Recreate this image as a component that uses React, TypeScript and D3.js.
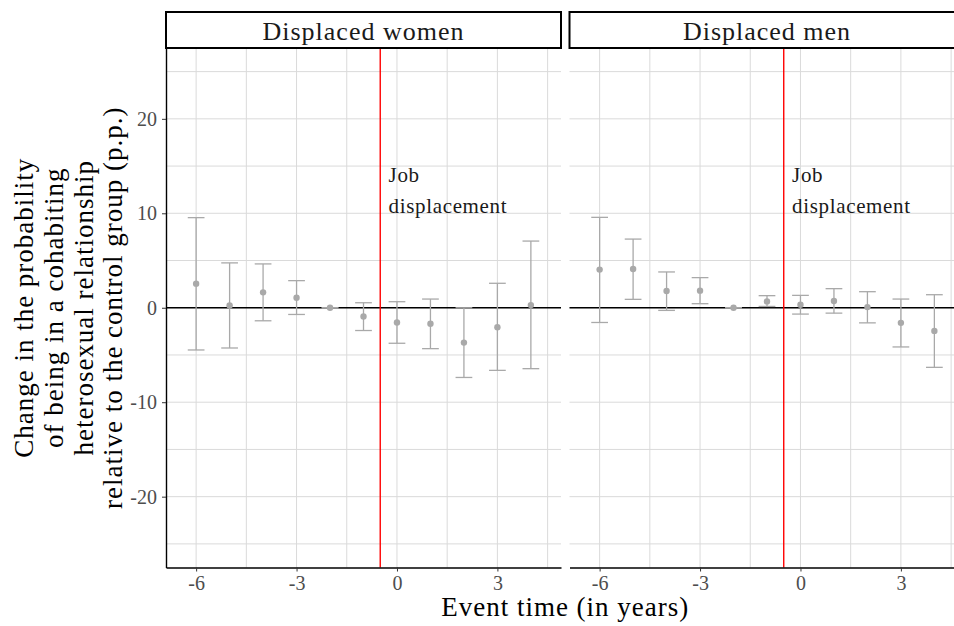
import React, { useEffect, useRef } from 'react';
import * as d3 from 'd3';

// Event-study estimates (percentage points)
const eventTime = [-6, -5, -4, -3, -2, -1, 0, 1, 2, 3, 4];

const womenEst = [2.55, 0.25, 1.63, 1.06, 0, -0.92, -1.56, -1.7, -3.69, -2.06, 0.28];
const womenLow = [-4.47, -4.26, -1.38, -0.71, 0, -2.41, -3.76, -4.33, -7.38, -6.63, -6.45];
const womenHigh = [9.54, 4.75, 4.64, 2.87, 0, 0.53, 0.64, 0.92, 0.0, 2.59, 7.06];

const menEst = [4.04, 4.11, 1.77, 1.81, 0, 0.67, 0.32, 0.71, 0.07, -1.6, -2.45];
const menLow = [-1.56, 0.89, -0.28, 0.43, 0, 0.14, -0.67, -0.57, -1.6, -4.15, -6.31];
const menHigh = [9.57, 7.27, 3.79, 3.19, 0, 1.28, 1.31, 2.02, 1.7, 0.92, 1.38];

const panelLabels = ['Displaced women', 'Displaced men'];
const xTicks = [-6, -3, 0, 3];
const xMinor = [-4.5, -1.5, 1.5, 4.5];
const yTicks = [-20, -10, 0, 10, 20];
const yMinor = [-25, -15, -5, 5, 15, 25];
const eventLine = -0.5;
const annotationLines = ['Job', 'displacement'];
const yTitleLines = [
  'Change in the probability',
  'of being in a cohabiting',
  'heterosexual relationship',
  'relative to the control group (p.p.)',
];

const FONT = '"Liberation Serif", "Times New Roman", serif';

const App: React.FC = () => {
  const ref = useRef<SVGSVGElement>(null);

  useEffect(() => {
    if (!ref.current) return;
    const svg = d3.select(ref.current);
    svg.selectAll('*').remove();

    const width = 954;
    const height = 626;
    const top = 48;
    const bottom = 567.5;
    const panelW = 395;
    const lefts = [166, 569.5];
    const series = [
      { est: womenEst, low: womenLow, high: womenHigh },
      { est: menEst, low: menLow, high: menHigh },
    ];

    svg.attr('width', width).attr('height', height).style('font-family', FONT);

    const y = d3.scaleLinear().domain([-27.5, 27.5]).range([bottom, top]);

    lefts.forEach((left, p) => {
      const x = d3.scaleLinear().domain([-6.9, 4.9]).range([left, left + panelW]);
      const g = svg.append('g');
      const d = series[p];

      // grid
      const grid = g.append('g').attr('stroke', '#dadada').attr('stroke-width', 1);
      [...xMinor, ...xTicks].forEach((v) => {
        grid.append('line')
          .attr('x1', x(v)).attr('x2', x(v))
          .attr('y1', top).attr('y2', bottom);
      });
      [...yMinor, ...yTicks].forEach((v) => {
        grid.append('line')
          .attr('x1', left).attr('x2', left + panelW)
          .attr('y1', y(v)).attr('y2', y(v));
      });

      // zero line
      g.append('line')
        .attr('x1', left).attr('x2', left + panelW)
        .attr('y1', y(0)).attr('y2', y(0))
        .attr('stroke', '#000').attr('stroke-width', 1.4);

      // job displacement marker
      g.append('line')
        .attr('x1', x(eventLine)).attr('x2', x(eventLine))
        .attr('y1', top).attr('y2', bottom)
        .attr('stroke', '#ff0000').attr('stroke-width', 1.4);

      // error bars
      const capHalf = (x(0.25) - x(0));
      eventTime.forEach((t, i) => {
        const eb = g.append('g').attr('stroke', '#a9a9a9').attr('stroke-width', 1.3);
        eb.append('line')
          .attr('x1', x(t)).attr('x2', x(t))
          .attr('y1', y(d.low[i])).attr('y2', y(d.high[i]));
        [d.low[i], d.high[i]].forEach((v) => {
          eb.append('line')
            .attr('x1', x(t) - capHalf).attr('x2', x(t) + capHalf)
            .attr('y1', y(v)).attr('y2', y(v));
        });
      });

      g.selectAll('circle.pt')
        .data(eventTime)
        .enter()
        .append('circle')
        .attr('class', 'pt')
        .attr('cx', (t) => x(t))
        .attr('cy', (_, i) => y(d.est[i]))
        .attr('r', 3.2)
        .attr('fill', '#a9a9a9');

      // annotation
      const ann = g.append('text')
        .attr('x', x(-0.25))
        .attr('y', y(12) - 12)
        .style('font-size', '21px')
        .style('letter-spacing', '0.65px')
        .attr('fill', '#1a1a1a');
      annotationLines.forEach((s, k) => {
        ann.append('tspan')
          .attr('x', x(-0.25))
          .attr('dy', k === 0 ? 0 : 30.5)
          .text(s);
      });

      // strip
      g.append('rect')
        .attr('x', left).attr('y', 12)
        .attr('width', panelW).attr('height', top - 12)
        .attr('fill', '#fff').attr('stroke', '#000').attr('stroke-width', 2);
      g.append('text')
        .attr('x', left + panelW / 2)
        .attr('y', 40)
        .attr('text-anchor', 'middle')
        .style('font-size', '26px')
        .style('letter-spacing', '1px')
        .attr('fill', '#1a1a1a')
        .text(panelLabels[p]);

      // x axis
      const xa = g.append('g')
        .attr('transform', `translate(0,${bottom})`)
        .call(d3.axisBottom(x).tickValues(xTicks).tickSize(4).tickSizeOuter(0).tickPadding(4).tickFormat((v) => String(v)));
      xa.select('.domain').attr('stroke', '#000').attr('stroke-width', 1.4);
      xa.selectAll('.tick line').attr('stroke', '#333');
      xa.selectAll('.tick text')
        .attr('fill', '#4d4d4d')
        .style('font-size', '20px')
        .style('font-family', FONT);

      if (p === 0) {
        const ya = g.append('g')
          .attr('transform', `translate(${left},0)`)
          .call(d3.axisLeft(y).tickValues(yTicks).tickSize(4).tickSizeOuter(0).tickPadding(5).tickFormat((v) => String(v)));
        ya.select('.domain').attr('stroke', '#000').attr('stroke-width', 1.4);
        ya.selectAll('.tick line').attr('stroke', '#333');
        ya.selectAll('.tick text')
          .attr('fill', '#4d4d4d')
          .style('font-size', '20px')
          .style('font-family', FONT);
      }
    });

    // axis titles
    svg.append('text')
      .attr('x', (166 + 569.5 + panelW) / 2)
      .attr('y', 616)
      .attr('text-anchor', 'middle')
      .style('font-size', '27px')
      .style('letter-spacing', '1px')
      .attr('fill', '#000')
      .text('Event time (in years)');

    const yMid = (top + bottom) / 2;
    yTitleLines.forEach((s, k) => {
      svg.append('text')
        .attr('transform', `translate(${33 + k * 29.8},${yMid}) rotate(-90)`)
        .attr('text-anchor', 'middle')
        .style('font-size', '27px')
        .style('letter-spacing', '1px')
        .attr('fill', '#000')
        .text(s);
    });
  }, []);

  return (
    <div style={{ position: 'absolute', left: 0, top: 0 }}>
      <svg ref={ref} style={{ display: 'block' }}></svg>
    </div>
  );
};

export default App;
